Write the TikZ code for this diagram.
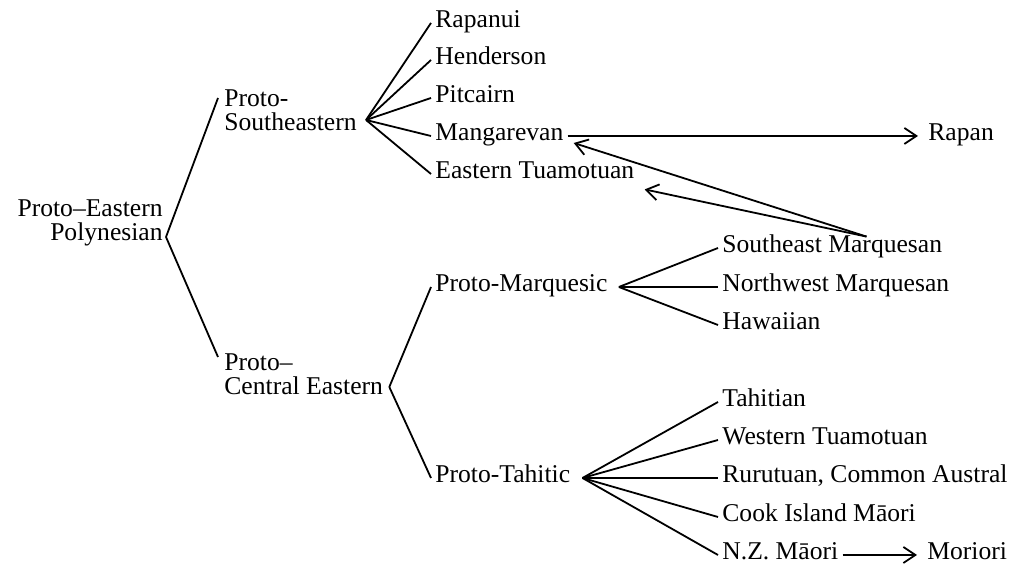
\documentclass[tikz,border=0pt]{standalone}
\usepackage{fontspec}
\setmainfont{Liberation Serif}
\usetikzlibrary{arrows.meta,calc}

\tikzset{
  lang/.style={inner xsep=2pt, inner ysep=1pt, text height=0.7em, text depth=0.2em,
    font=\fontsize{12.8}{12.2}\selectfont},
  group/.style={inner sep=1pt, align=left, font=\fontsize{12.8}{12.2}\selectfont},
  branch/.style={line width=0.9pt},
  loan/.style={line width=0.9pt, -{Straight Barb[length=6pt,width=8pt]}},
}

\begin{document}
\begin{tikzpicture}[x=0.5pt, y=-0.5pt]
  \useasboundingbox (0,0) rectangle (1013,565);

  % proto-languages
  \node[group, align=right, anchor=east] (pep) at (165,223) {Proto–Eastern\\Polynesian};
  \node[group, anchor=west] (pse) at (222,110) {Proto-\\Southeastern};
  \node[group, anchor=west] (pce) at (222,374) {Proto–\\Central Eastern};
  \node[lang, anchor=base west] (pmq) at (431,292) {Proto-Marquesic};
  \node[lang, anchor=base west] (pth) at (431,483) {Proto-Tahitic};

  % Southeastern languages
  \node[lang, anchor=base west] (rap) at (431,28)  {Rapanui};
  \node[lang, anchor=base west] (hen) at (431,65)  {Henderson};
  \node[lang, anchor=base west] (pit) at (431,103) {Pitcairn};
  \node[lang, anchor=base west] (man) at (431,141) {Mangarevan};
  \node[lang, anchor=base west] (etu) at (431,179) {Eastern Tuamotuan};
  \node[lang, anchor=base west] (rpn) at (924,141) {Rapan};

  % Marquesic languages
  \node[lang, anchor=base west] (sem) at (718,253) {Southeast Marquesan};
  \node[lang, anchor=base west] (nwm) at (718,292) {Northwest Marquesan};
  \node[lang, anchor=base west] (haw) at (718,330) {Hawaiian};

  % Tahitic languages
  \node[lang, anchor=base west] (tah) at (718,407) {Tahitian};
  \node[lang, anchor=base west] (wtu) at (718,445) {Western Tuamotuan};
  \node[lang, anchor=base west] (rur) at (718,483) {Rurutuan, Common Austral};
  \node[lang, anchor=base west] (cim) at (718,522) {Cook Island Māori};
  \node[lang, anchor=base west] (nzm) at (718,560) {N.Z. Māori};
  \node[lang, anchor=base west] (mor) at (923,560) {Moriori};

  % fork points
  \coordinate (pep-fork) at ([shift={(1,14)}]pep.east);
  \coordinate (pse-fork) at ([shift={(7,10)}]pse.east);
  \coordinate (pce-fork) at ([shift={(4,13)}]pce.east);
  \coordinate (pmq-fork) at ([shift={(7,0)}]pmq.east);
  \coordinate (pth-fork) at ([shift={(8,0)}]pth.east);
  \coordinate (sem-src) at ($(sem.north west)!0.65!(sem.north east)$);

  % tree
  \draw[branch] (pep-fork) -- ([shift={(-4,-12)}]pse.west);
  \draw[branch] (pep-fork) -- ([shift={(-4,-17)}]pce.west);
  \draw[branch] (pce-fork) -- (pmq.west);
  \draw[branch] (pce-fork) -- (pth.west);
  \foreach \n in {rap,hen,pit,man,etu}
    \draw[branch] (pse-fork) -- (\n.west);
  \foreach \n in {sem,nwm,haw}
    \draw[branch] (pmq-fork) -- (\n.west);
  \foreach \n in {tah,wtu,rur,cim,nzm}
    \draw[branch] (pth-fork) -- (\n.west);

  % later movements
  \draw[loan, shorten >=3pt] (man.east) -- (rpn.west);
  \draw[loan] (sem-src) -- ([shift={(6,7)}]man.east);
  \draw[loan] (sem-src) -- ([shift={(6,4)}]etu.south east);
  \draw[loan, shorten >=3pt] (nzm.east) -- (mor.west);

\end{tikzpicture}
\end{document}
